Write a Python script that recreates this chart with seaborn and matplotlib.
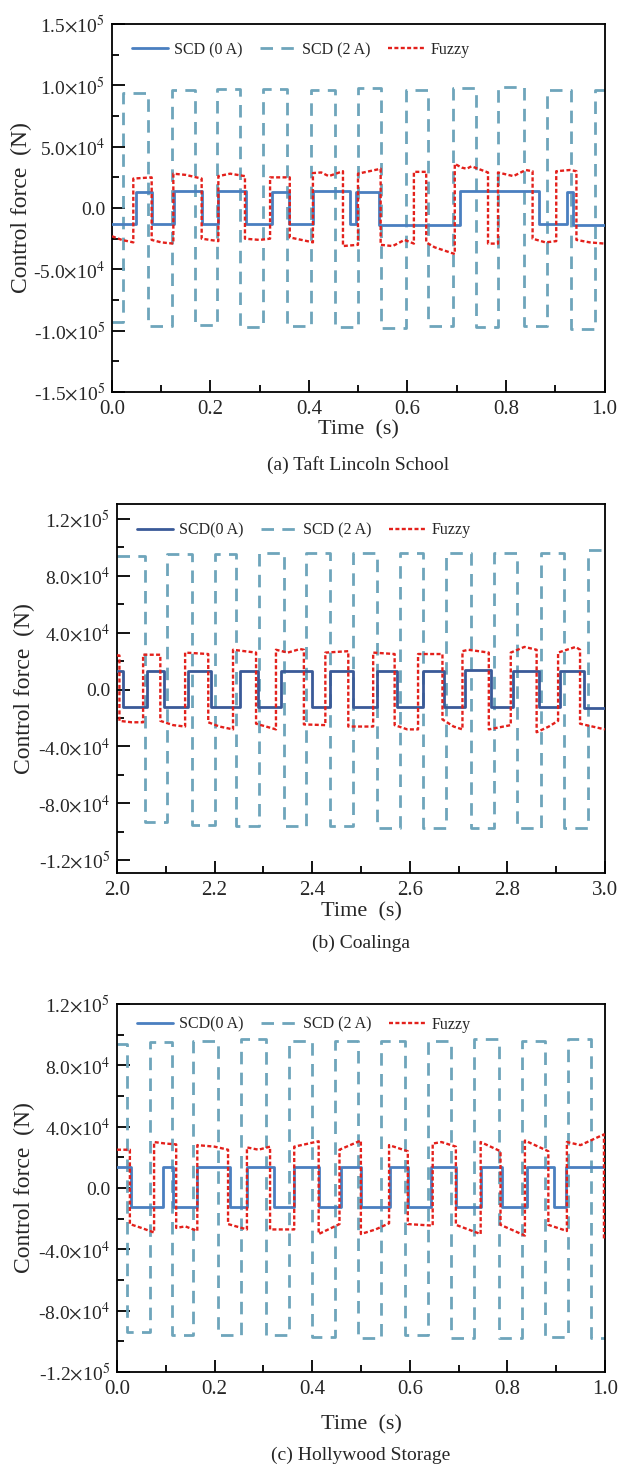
import matplotlib
matplotlib.use("Agg")
import matplotlib.pyplot as plt
import seaborn as sns
import pandas as pd
from matplotlib.ticker import FixedLocator, FixedFormatter

sns.set_theme(style="ticks")
plt.rcParams["font.family"] = ["Liberation Serif", "DejaVu Serif"]
plt.rcParams["mathtext.fontset"] = "stix"

UNIT = 1e4  # values below are in units of 10^4 N

# ---------------- panel (a) Taft Lincoln School ----------------
a_scd0_switch = [0.0487, 0.0806, 0.126, 0.182, 0.216, 0.273, 0.324, 0.360, 0.408,
                 0.484, 0.496, 0.542, 0.707, 0.868, 0.924, 0.937]
a_scd0_level = [-1.3, 1.3, -1.3, 1.35, -1.3, 1.35, -1.3, 1.3, -1.3, 1.35, -1.3,
                1.3, -1.4, 1.4, -1.3, 1.3, -1.35]
a_scd2_switch = [0.023, 0.073, 0.121, 0.169, 0.213, 0.26, 0.307, 0.355, 0.404, 0.452,
                 0.4995, 0.546, 0.597, 0.642, 0.692, 0.739, 0.784, 0.836, 0.884,
                 0.932, 0.981]
a_scd2_level = [-9.3, 9.4, -9.6, 9.6, -9.5, 9.7, -9.7, 9.7, -9.6, 9.6, -9.7, 9.8,
                -9.8, 9.6, -9.6, 9.8, -9.7, 9.9, -9.6, 9.6, -9.9, 9.6]
a_fuzzy_t = [0, 0.02, 0.0433, 0.0433, 0.0806, 0.0806, 0.10, 0.1246, 0.1246, 0.15,
             0.1821, 0.1821, 0.216, 0.216, 0.24, 0.270, 0.270, 0.30, 0.321, 0.321,
             0.361, 0.361, 0.385, 0.408, 0.408, 0.425, 0.44, 0.469, 0.469, 0.4995,
             0.4995, 0.5455, 0.5455, 0.57, 0.594, 0.613, 0.613, 0.638, 0.638, 0.655,
             0.696, 0.696, 0.71, 0.72, 0.73, 0.7635, 0.7635, 0.7838, 0.7838, 0.815,
             0.84, 0.854, 0.854, 0.88, 0.902, 0.902, 0.93, 0.943, 0.943, 0.97, 1.0]
a_fuzzy_v = [-2.3, -2.6, -2.8, 2.4, 2.5, -2.6, -2.8, -2.9, 2.8, 2.7,
             2.4, -2.5, -2.7, 2.6, 2.8, 2.6, -2.5, -2.6, -2.5, 2.5,
             2.5, -2.4, -2.6, -2.8, 2.85, 2.9, 2.6, 3.0, -3.1, -3.0,
             2.8, 3.2, -3.0, -3.1, -2.6, -2.9, 2.95, 2.95, -2.8, -3.2,
             -3.75, 3.6, 3.3, 3.2, 3.4, 2.9, -2.9, -2.9, 2.9, 2.6,
             3.1, 3.0, -2.5, -2.8, -2.7, 3.0, 3.1, 3.0, -2.6, -2.8, -2.9]

# ---------------- panel (b) Coalinga ----------------
b_scd0_switch = [2.0128, 2.0617, 2.0955, 2.1449, 2.1917, 2.2514, 2.2886, 2.336, 2.3998,
                 2.437, 2.483, 2.533, 2.574, 2.628, 2.671, 2.713, 2.767, 2.811, 2.864,
                 2.908, 2.957]
b_scd0_level = [1.3, -1.22, 1.3, -1.22, 1.3, -1.22, 1.3, -1.22, 1.3, -1.22, 1.3,
                -1.25, 1.3, -1.25, 1.3, -1.25, 1.35, -1.25, 1.3, -1.25, 1.3, -1.3]
b_scd2_switch = [2.058, 2.102, 2.153, 2.2006, 2.2446, 2.292, 2.343, 2.388, 2.437, 2.484,
                 2.532, 2.579, 2.627, 2.675, 2.725, 2.772, 2.82, 2.868, 2.916, 2.965]
b_scd2_level = [9.4, -9.3, 9.5, -9.5, 9.5, -9.6, 9.6, -9.6, 9.6, -9.6, 9.6, -9.7,
                9.6, -9.7, 9.6, -9.7, 9.6, -9.7, 9.6, -9.7, 9.8]
b_fuzzy_t = [2.0, 2.005, 2.005, 2.03, 2.0535, 2.0535, 2.0888, 2.0888, 2.115, 2.1396,
             2.1396, 2.187, 2.187, 2.21, 2.2378, 2.2378, 2.285, 2.285, 2.3258, 2.3258,
             2.35, 2.375, 2.383, 2.383, 2.427, 2.427, 2.474, 2.474, 2.525, 2.525,
             2.569, 2.569, 2.595, 2.617, 2.617, 2.667, 2.667, 2.69, 2.708, 2.708,
             2.72, 2.762, 2.762, 2.807, 2.807, 2.835, 2.86, 2.86, 2.885, 2.904,
             2.904, 2.94, 2.949, 2.949, 3.0]
b_fuzzy_v = [2.4, 2.4, -2.2, -2.3, -2.3, 2.45, 2.45, -2.2, -2.5, -2.6,
             2.6, 2.5, -2.3, -2.6, -2.8, 2.8, 2.6, -2.4, -2.8, 2.8,
             2.6, 2.85, 2.8, -2.45, -2.5, 2.6, 2.7, -2.6, -2.6, 2.6,
             2.5, -2.5, -2.8, -2.8, 2.5, 2.5, -2.1, -2.6, -2.8, 2.7,
             2.8, 2.6, -2.8, -2.5, 2.6, 3.0, 2.8, -3.0, -2.6, -2.2,
             2.6, 3.0, 2.8, -2.4, -2.8]

# ---------------- panel (c) Hollywood Storage ----------------
c_scd0_switch = [0.029, 0.0942, 0.1138, 0.1646, 0.231, 0.2663, 0.3226, 0.3632, 0.4133,
                 0.4587, 0.4993, 0.559, 0.596, 0.6437, 0.6945, 0.7453, 0.790, 0.840,
                 0.896, 0.920]
c_scd0_level = [1.35, -1.22, 1.35, -1.22, 1.4, -1.22, 1.35, -1.22, 1.35, -1.22, 1.35,
                -1.25, 1.35, -1.22, 1.35, -1.25, 1.35, -1.25, 1.35, -1.25, 1.4]
c_scd2_switch = [0.021, 0.0685, 0.1125, 0.1565, 0.2073, 0.2547, 0.3056, 0.353, 0.40,
                 0.447, 0.4945, 0.5417, 0.5894, 0.637, 0.6843, 0.7317, 0.7825, 0.83,
                 0.877, 0.925, 0.972]
c_scd2_level = [9.4, -9.4, 9.5, -9.6, 9.6, -9.6, 9.7, -9.6, 9.6, -9.7, 9.6, -9.8,
                9.6, -9.6, 9.6, -9.8, 9.7, -9.8, 9.6, -9.7, 9.7, -9.8]
c_fuzzy_t = [0, 0.0264, 0.0264, 0.05, 0.076, 0.076, 0.1, 0.1213, 0.1213, 0.14,
             0.1646, 0.1646, 0.2, 0.2276, 0.2276, 0.2663, 0.2663, 0.29, 0.3137, 0.3137,
             0.3632, 0.3632, 0.385, 0.4133, 0.4133, 0.456, 0.456, 0.4998, 0.4998, 0.53,
             0.5576, 0.5576, 0.596, 0.596, 0.647, 0.647, 0.665, 0.6945, 0.6945, 0.7453,
             0.7453, 0.786, 0.786, 0.836, 0.836, 0.884, 0.884, 0.922, 0.922, 0.95,
             0.998, 0.998]
c_fuzzy_v = [2.5, 2.5, -2.35, -2.6, -2.9, 3.0, 2.9, 2.85, -2.6, -2.5,
             -2.8, 2.8, 2.7, 2.5, -2.35, -2.7, 2.65, 2.5, 2.7, -2.7,
             -2.7, 2.7, 2.85, 3.05, -3.0, -2.35, 2.5, 3.1, -3.0, -2.7,
             -2.3, 2.8, 2.4, -2.35, -2.45, 2.9, 3.0, 2.7, -2.4, -3.0,
             3.0, 2.4, -2.4, -3.1, 3.1, 2.4, -2.4, -2.8, 3.0, 2.8,
             3.5, -3.3]

# ---------------- axes / text ----------------
a_yticks = [-15, -10, -5, 0, 5, 10, 15]
a_yticklabels = [r"-1.5$\times$10$^{5}$", r"-1.0$\times$10$^{5}$", r"-5.0$\times$10$^{4}$",
                 "0.0", r"5.0$\times$10$^{4}$", r"1.0$\times$10$^{5}$", r"1.5$\times$10$^{5}$"]
a_yminor = [-12.5, -7.5, -2.5, 2.5, 7.5, 12.5]
bc_yticks = [-12, -8, -4, 0, 4, 8, 12]
bc_yticklabels = [r"-1.2$\times$10$^{5}$", r"-8.0$\times$10$^{4}$", r"-4.0$\times$10$^{4}$",
                  "0.0", r"4.0$\times$10$^{4}$", r"8.0$\times$10$^{4}$", r"1.2$\times$10$^{5}$"]
bc_yminor = [-10, -6, -2, 2, 6, 10]
a_xticks = [0.0, 0.2, 0.4, 0.6, 0.8, 1.0]
b_xticks = [2.0, 2.2, 2.4, 2.6, 2.8, 3.0]
a_xminor = [0.1, 0.3, 0.5, 0.7, 0.9]
b_xminor = [2.1, 2.3, 2.5, 2.7, 2.9]

captions = ["(a) Taft Lincoln School", "(b) Coalinga", "(c) Hollywood Storage"]
legend_labels = [["SCD (0 A)", "SCD (2 A)", "Fuzzy"],
                 ["SCD(0 A)", "SCD (2 A)", "Fuzzy"],
                 ["SCD(0 A)", "SCD (2 A)", "Fuzzy"]]

C_SOLID = ["#4a7fc0", "#3a5a98", "#4a7fc0"]
C_DASH = "#6ea5bb"
C_FUZZY = "#e3201b"


def step_frame(t0, t1, switches, levels):
    ts, vs = [t0], [levels[0]]
    for s, lo, hi in zip(switches, levels[:-1], levels[1:]):
        ts += [s, s]
        vs += [lo, hi]
    ts.append(t1)
    vs.append(levels[-1])
    return pd.DataFrame({"t": ts, "f": [v * UNIT for v in vs]})


fig = plt.figure(figsize=(6.2, 14.66), dpi=100)
axes_pos = [[0.1806, 0.7326, 0.7944, 0.2510],
            [0.1887, 0.4045, 0.7870, 0.2517],
            [0.1887, 0.0641, 0.7870, 0.2510]]

panels = [
    dict(x=(0, 1), s0=(a_scd0_switch, a_scd0_level), s2=(a_scd2_switch, a_scd2_level),
         fz=(a_fuzzy_t, a_fuzzy_v), ylim=(-15, 15), yt=a_yticks, ytl=a_yticklabels,
         ym=a_yminor, xt=a_xticks, xm=a_xminor, leg_y=0.951, xlab_y=-0.076,
         ylab_x=-0.162, cap_y=465),
    dict(x=(2, 3), s0=(b_scd0_switch, b_scd0_level), s2=(b_scd2_switch, b_scd2_level),
         fz=(b_fuzzy_t, b_fuzzy_v), ylim=(-12.9, 13.05), yt=bc_yticks, ytl=bc_yticklabels,
         ym=bc_yminor, xt=b_xticks, xm=b_xminor, leg_y=0.951, xlab_y=-0.079,
         ylab_x=-0.167, cap_y=943),
    dict(x=(0, 1), s0=(c_scd0_switch, c_scd0_level), s2=(c_scd2_switch, c_scd2_level),
         fz=(c_fuzzy_t, c_fuzzy_v), ylim=(-12, 12), yt=bc_yticks, ytl=bc_yticklabels,
         ym=bc_yminor, xt=a_xticks, xm=a_xminor, leg_y=0.966, xlab_y=-0.117,
         ylab_x=-0.167, cap_y=1455),
]

for i, p in enumerate(panels):
    ax = fig.add_axes(axes_pos[i])
    t0, t1 = p["x"]
    d0 = step_frame(t0, t1, *p["s0"])
    d2 = step_frame(t0, t1, *p["s2"])
    dfz = pd.DataFrame({"t": p["fz"][0], "f": [v * UNIT for v in p["fz"][1]]})
    labs = legend_labels[i]
    sns.lineplot(data=d0, x="t", y="f", sort=False, estimator=None, errorbar=None,
                 color=C_SOLID[i], linewidth=2.0, label=labs[0], ax=ax, zorder=3)
    sns.lineplot(data=d2, x="t", y="f", sort=False, estimator=None, errorbar=None,
                 color=C_DASH, linewidth=2.0, linestyle=(0, (4.5, 3.0)),
                 label=labs[1], ax=ax, zorder=2)
    sns.lineplot(data=dfz, x="t", y="f", sort=False, estimator=None, errorbar=None,
                 color=C_FUZZY, linewidth=1.7, linestyle=(0, (1.7, 1.0)),
                 label=labs[2], ax=ax, zorder=4)

    ax.set_xlim(t0, t1)
    ax.set_ylim(p["ylim"][0] * UNIT, p["ylim"][1] * UNIT)
    ax.yaxis.set_major_locator(FixedLocator([v * UNIT for v in p["yt"]]))
    ax.yaxis.set_major_formatter(FixedFormatter(p["ytl"]))
    ax.yaxis.set_minor_locator(FixedLocator([v * UNIT for v in p["ym"]]))
    ax.xaxis.set_major_locator(FixedLocator(p["xt"]))
    ax.xaxis.set_major_formatter(FixedFormatter([f"{v:.1f}" for v in p["xt"]]))
    ax.xaxis.set_minor_locator(FixedLocator(p["xm"]))
    ax.tick_params(which="both", direction="in", top=False, right=False,
                   width=1.3, color="black")
    ax.tick_params(which="major", length=9)
    ax.tick_params(which="minor", length=5)
    ax.tick_params(axis="x", which="major", labelsize=15, pad=6)
    ax.tick_params(axis="y", which="major", labelsize=14, pad=5)
    for sp in ax.spines.values():
        sp.set_visible(True)
        sp.set_color("black")
        sp.set_linewidth(1.3)

    ax.set_xlabel("Time  (s)", fontsize=16)
    ax.set_ylabel("Control force  (N)", fontsize=17)
    ax.xaxis.set_label_coords(0.5, p["xlab_y"])
    ax.yaxis.set_label_coords(p["ylab_x"], 0.5)

    ax.legend(loc="upper left", bbox_to_anchor=(0.04, p["leg_y"]), ncol=3,
              frameon=False, fontsize=11.5, handlelength=2.3, handletextpad=0.35,
              columnspacing=1.1, borderpad=0, borderaxespad=0)

    cx = axes_pos[i][0] + axes_pos[i][2] / 2
    fig.text(cx, 1 - p["cap_y"] / 1466, captions[i], ha="center", va="center",
             fontsize=14)

fig.savefig("out.png", dpi=100)
